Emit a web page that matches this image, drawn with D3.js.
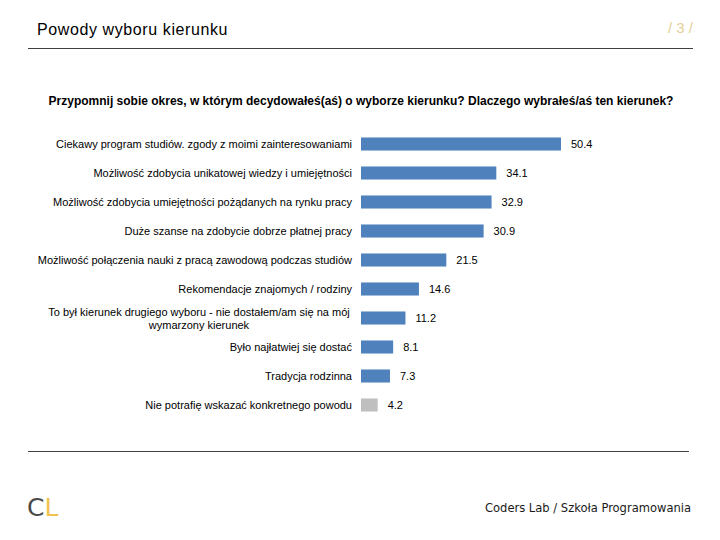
<!DOCTYPE html>
<html><head><meta charset="utf-8">
<script src="https://cdn.jsdelivr.net/npm/d3@7"></script>
<style>body{margin:0;background:#fff}</style>
</head><body>
<script>
const categories = [
  ["Ciekawy program studiów. zgody z moimi zainteresowaniami"],
  ["Możliwość zdobycia unikatowej wiedzy i umiejętności"],
  ["Możliwość zdobycia umiejętności pożądanych na rynku pracy"],
  ["Duże szanse na zdobycie dobrze płatnej pracy"],
  ["Możliwość połączenia nauki z pracą zawodową podczas studiów"],
  ["Rekomendacje znajomych / rodziny"],
  ["To był kierunek drugiego wyboru - nie dostałem/am się na mój", "wymarzony kierunek"],
  ["Było najłatwiej się dostać"],
  ["Tradycja rodzinna"],
  ["Nie potrafię wskazać konkretnego powodu"]
];
const values = [50.4, 34.1, 32.9, 30.9, 21.5, 14.6, 11.2, 8.1, 7.3, 4.2];
const barColors = ["#4f81bd","#4f81bd","#4f81bd","#4f81bd","#4f81bd","#4f81bd","#4f81bd","#4f81bd","#4f81bd","#bfbfbf"];
const title = "Powody wyboru kierunku";
const pageNo = "/3/";
const question = "Przypomnij sobie okres, w którym decydowałeś(aś) o wyborze kierunku? Dlaczego wybrałeś/aś ten kierunek?";
const footer = "Coders Lab / Szkoła Programowania";

const W = 720, H = 540;
const svg = d3.select("body").append("svg").attr("width", W).attr("height", H)
  .style("font-family", "Liberation Sans, Arial, sans-serif");

svg.append("text").attr("x", 37).attr("y", 35).attr("font-size", 16).style("letter-spacing", "0.6px")
  .attr("fill", "#000").text(title);
svg.append("text").attr("x", 693).attr("y", 33).attr("text-anchor", "end").attr("font-size", 15)
  .attr("fill", "#e3cf9c").text(pageNo.split("").join(" "));
svg.append("line").attr("x1", 28).attr("x2", 693).attr("y1", 48.5).attr("y2", 48.5).attr("stroke", "#404040").attr("stroke-width", 1);
svg.append("line").attr("x1", 28).attr("x2", 689).attr("y1", 451.5).attr("y2", 451.5).attr("stroke", "#404040").attr("stroke-width", 1);

svg.append("text").attr("x", 361).attr("y", 105).attr("text-anchor", "middle").attr("font-size", 12)
  .attr("font-weight", "bold").attr("fill", "#000").text(question);

const idx = d3.range(values.length);
const x = d3.scaleLinear().domain([0, 50.4]).range([361, 561]);
const y = d3.scaleBand().domain(idx).range([129.5, 419.5]).paddingInner(0.55).paddingOuter(0.275);

svg.append("g").selectAll("rect").data(idx).join("rect")
  .attr("x", x(0)).attr("y", i => y(i)).attr("width", i => x(values[i]) - x(0))
  .attr("height", y.bandwidth()).attr("fill", i => barColors[i]);

svg.append("g").selectAll("text").data(idx).join("text")
  .attr("x", i => x(values[i]) + 10).attr("y", i => y(i) + y.bandwidth()/2 + 4)
  .attr("font-size", 11).attr("fill", "#000").text(i => values[i].toFixed(1));

const lab = svg.append("g").selectAll("text").data(idx).join("text")
  .attr("font-size", 11).attr("fill", "#000")
  .attr("text-anchor", i => categories[i].length > 1 ? "middle" : "end")
  .attr("x", i => categories[i].length > 1 ? 199 : 352)
  .attr("y", i => y(i) + y.bandwidth()/2 + 4 - (categories[i].length - 1) * 6.5);
lab.selectAll("tspan").data(i => categories[i]).join("tspan")
  .attr("x", function(){ return d3.select(this.parentNode).attr("x"); })
  .attr("dy", (d, k) => k === 0 ? 0 : 13).text(d => d);

svg.append("text").attr("x", 27).attr("y", 516).attr("font-size", 25)
  .style("font-family", "DejaVu Sans, sans-serif")
  .call(t => { t.append("tspan").attr("fill", "#4a4a4a").text("C"); t.append("tspan").attr("fill", "#f2c14e").text("L"); });
svg.append("text").attr("x", 691).attr("y", 512).attr("text-anchor", "end").attr("font-size", 12.8)
  .style("font-family", "DejaVu Sans, sans-serif").style("font-stretch", "condensed")
  .attr("fill", "#1a1a1a").text(footer);
</script>
</body></html>
